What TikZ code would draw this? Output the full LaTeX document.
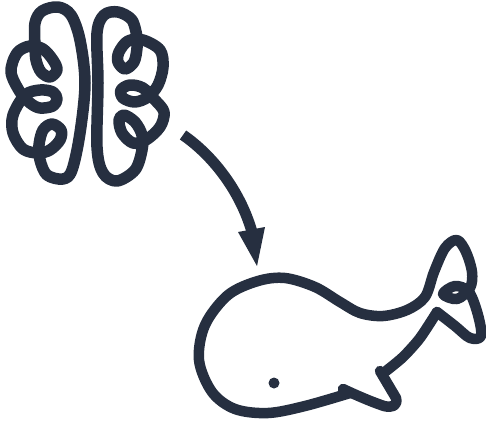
\documentclass[tikz,border=0pt]{standalone}
\definecolor{ink}{HTML}{262F40}
\tikzset{outline/.style={draw=ink,line width=11.5,line cap=round,line join=round},
 thin outline/.style={draw=ink,line width=10.5,line cap=round,line join=round}}
\begin{document}
\begin{tikzpicture}[x=1pt,y=-1pt]
\useasboundingbox (0,0) rectangle (486,421);
% left hemisphere
\draw[outline] plot[smooth,tension=0.55] coordinates {
(35,45)(35,23)(42,11)(58,7)(71,15)(80,40)(85,83)(80,133)(72,170)(63,179)(47,175)(40,160)(39,145)(43,130)(52,124)(61,130)(60,140)(50,150)(38,153)(23,149)(13,133)(13,115)(25,95)(40,90)(53,92)(57,99)(53,106)(40,108)(30,103)(20,92)(11,72)(17,53)(30,46)(43,49)(53,60)(57,70)(50,77)(41,72)(36,60)(35,45)};
% right hemisphere
\draw[outline] plot[smooth,tension=0.55] coordinates {
(137,37)(132,20)(118,12)(104,15)(97,33)(98,83)(97,147)(103,173)(117,181)(135,170)(142,150)(142,135)(135,122)(124,115)(119,120)(122,133)(133,143)(146,140)(160,127)(164,112)(155,100)(143,88)(130,85)(121,90)(123,98)(135,102)(148,97)(158,85)(163,67)(160,50)(143,40)(128,41)(119,52)(118,62)(125,69)(134,62)(137,48)(137,37)};
% arrow
\coordinate (arrowstart) at (183,135);
\coordinate (arrowend) at (252,232);
\draw[draw=ink,line width=11] (arrowstart) .. controls (212,155) and (240,190) .. (arrowend);
\fill[ink] (238,232) -- (265,227) -- (257,266) -- cycle;
% whale
\draw[thin outline] plot[smooth,tension=0.55] coordinates {
(350,393)(305,406)(268,413)(235,409)(212,392)(199,360)(205,325)(228,295)(258,281)(285,278)(315,287)(340,302)(360,313)(383,316)(407,310)(425,297)(434,272)(445,248)(457,240)(466,252)(472,272)(470,288)(457,299)(443,294)(455,286)(469,292)(478,315)(481,336)(470,338)(455,326)(437,312)};
\draw[thin outline] plot[smooth,tension=0.45] coordinates {(437,312)(420,338)(403,357)(386,371)};
\draw[thin outline] (380,371) -- (396,398) .. controls (398,406) and (392,408) .. (384,406) .. controls (372,402) and (358,396) .. (343,389);
\fill[ink] (274,383) circle (5.5);
\end{tikzpicture}
\end{document}
